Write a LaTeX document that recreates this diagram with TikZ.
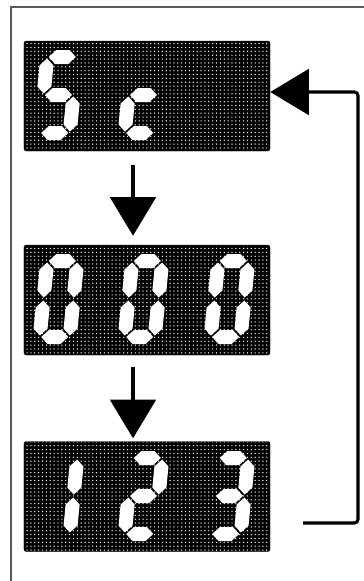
\documentclass[tikz,border=0pt]{standalone}
\usepackage{tikz}
\usetikzlibrary{arrows.meta, patterns}
\pgfdeclarepatternformonly{lcddots}{\pgfqpoint{-1pt}{-1pt}}{\pgfqpoint{1pt}{1pt}}
  {\pgfqpoint{3.3pt}{3.3pt}}
  {\pgfpathcircle{\pgfqpoint{0pt}{0pt}}{0.6pt}\pgfusepath{fill}}
\tikzset{
  lcd/.style={rectangle, draw=black, rounded corners=2pt, inner sep=0pt,
              preaction={fill=black}, pattern=lcddots, pattern color=white,
              minimum width=7.38cm, minimum height=3.3cm},
  segment/.style={fill=white},
  flowarrow/.style={draw, line width=2.6pt,
                    -{Triangle[length=33pt, width=39pt]}},
  frameline/.style={draw=black!65, line width=1.3pt}
}
% one bar of a seven-segment digit, cell 44 wide and 90 high
\newcommand{\hseg}[3]{\fill[segment] (#1,#3) -- (#1+7,#3-7) -- (#2-7,#3-7)
  -- (#2,#3) -- (#2-7,#3+7) -- (#1+7,#3+7) -- cycle;}
\newcommand{\vseg}[3]{\fill[segment] (#1,#2) -- (#1+7,#2+7) -- (#1+7,#3-7)
  -- (#1,#3) -- (#1-7,#3-7) -- (#1-7,#2+7) -- cycle;}
\newcommand{\lcdsega}{\hseg{8.5}{35.5}{-83}}
\newcommand{\lcdsegg}{\hseg{8.5}{35.5}{-45}}
\newcommand{\lcdsegd}{\hseg{8.5}{35.5}{-7}}
\newcommand{\lcdsegf}{\vseg{7}{-81.5}{-46.5}}
\newcommand{\lcdsege}{\vseg{7}{-43.5}{-8.5}}
\newcommand{\lcdsegb}{\vseg{37}{-81.5}{-46.5}}
\newcommand{\lcdsegc}{\vseg{37}{-43.5}{-8.5}}
\newcommand{\lcdseg}[1]{\csname lcdseg#1\endcsname}

\begin{document}
\begin{tikzpicture}[
    x=0.03cm, y=-0.03cm
]
  \useasboundingbox (0,0) rectangle (364,581);
  \draw[frameline] (364,7) -- (11,7) -- (11,581);

  \node[lcd] (sc)    at (147,96)    {};
  \node[lcd] (zero)  at (147,300)   {};
  \node[lcd] (count) at (147,496.5) {};

  \foreach \dx/\dy/\segs in {32/140/{a,f,g,c,d}, 117/140/{g,e,d},
      32/344/{a,b,c,d,e,f}, 117/344/{a,b,c,d,e,f}, 203/344/{a,b,c,d,e,f},
      32/541/{b,c}, 117/541/{a,b,g,e,d}, 203/541/{a,b,g,c,d}} {
    \begin{scope}[shift={(\dx,\dy)}, xslant=0.1]
      \foreach \s in \segs {\lcdseg{\s}}
    \end{scope}
  }

  \draw[flowarrow, shorten <=0.42cm, shorten >=0.27cm]
    ([xshift=-0.42cm]sc.south) -- ([xshift=-0.42cm]zero.north);
  \draw[flowarrow, shorten <=0.36cm, shorten >=0.09cm]
    ([xshift=-0.42cm]zero.south) -- ([xshift=-0.42cm]count.north);
  % back to the first display
  \coordinate (loopstart) at (303,523);
  \draw[flowarrow, rounded corners=3pt]
    (loopstart) -- ++(55,0) |- ([yshift=0.12cm]sc.east);
\end{tikzpicture}
\end{document}
